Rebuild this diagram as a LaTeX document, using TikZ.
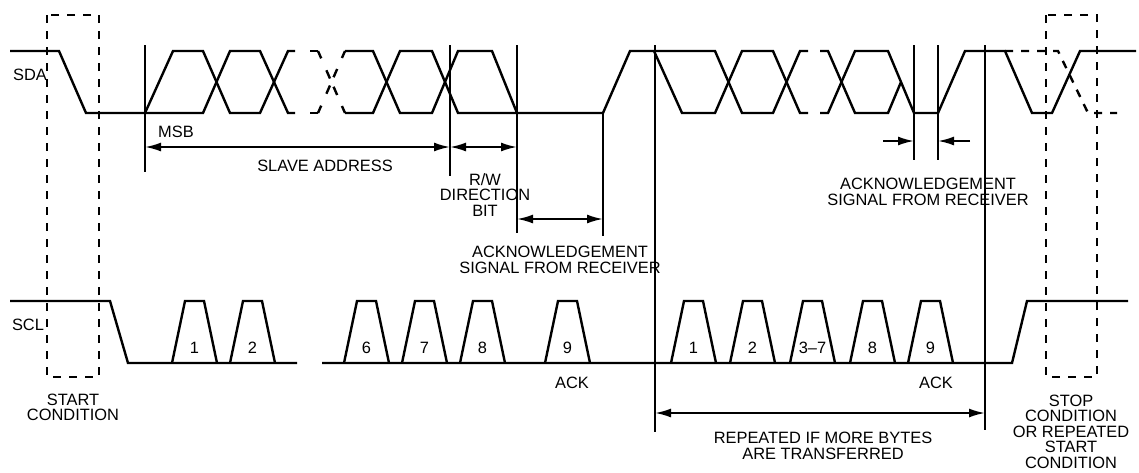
\documentclass[tikz,border=0pt]{standalone}
\usepackage{fontspec}
\setmainfont{Liberation Sans}
\usetikzlibrary{arrows.meta}

\tikzset{
  wave/.style={line width=1.2pt, line join=miter},
  marker/.style={line width=1pt},
  condbox/.style={line width=0.9pt, dash pattern=on 4pt off 4pt},
  dimline/.style={line width=1pt, {Latex[length=8pt,width=4.5pt]}-{Latex[length=8pt,width=4.5pt]}},
  pointer/.style={line width=1pt, -{Latex[length=8pt,width=4.5pt]}},
  lbl/.style={font=\fontsize{8.2}{7.75}\selectfont, inner sep=0pt, align=center},
  gapx/.style={wave, dash pattern=on 4pt off 6.5pt on 4.5pt off 4.5pt on 4.5pt off 6pt on 4pt},
}

\begin{document}
\begin{tikzpicture}[x=0.5pt, y=-0.5pt]
        \useasboundingbox (0,0) rectangle (1139,472);

        % SDA line
        \draw[wave] (10,51) -- (59,51) -- (86,113) -- (145,113) -- (173,51) -- (203,51) -- (230,113) -- (260,113) -- (288,51) -- (295,51);
        \draw[wave] (145,113) -- (203,113) -- (230,51) -- (260,51) -- (288,113) -- (295,113);
        \draw[wave] (310,51) -- (318,51);
        \draw[wave] (310,113) -- (318,113);
        \draw[gapx] (318,51) -- (345,113);
        \draw[gapx] (318,113) -- (345,51);
        \draw[wave] (345,51) -- (373,51) -- (400,113) -- (432,113) -- (458,51) -- (492,51) -- (517,113) -- (603,113) -- (630,51) -- (715,51) -- (742,113) -- (773,113) -- (800,51) -- (808,51);
        \draw[wave] (345,113) -- (373,113) -- (400,51) -- (432,51) -- (458,113) -- (517,113);
        \draw[wave] (654,51) -- (682,113) -- (715,113) -- (742,51) -- (773,51) -- (800,113) -- (808,113);
        \draw[wave] (820,51) -- (828,51) -- (855,113) -- (888,113) -- (901,82);
        \draw[wave] (820,113) -- (828,113) -- (855,51) -- (888,51) -- (914,113) -- (938,113) -- (965,51) -- (1005,51) -- (1032,113) -- (1052,113) -- (1080,51) -- (1136,51);
        \draw[wave, dash pattern=on 4pt off 4pt] (1005,51) -- (1058,51) -- (1088,113) -- (1117,113);

        % SCL line
        \draw[wave] (10,301) -- (110,301) -- (128,363) -- (297,363);
        \draw[wave] (322,363) -- (1012,363) -- (1027,301) -- (1128,301);
        \foreach \x/\n [count=\i] in {172/1, 230/2, 344/6, 402/7, 460/8, 545/9, 671/1, 730/2, 790/3--7, 850/8, 908/9} {
                \draw[wave] (\x,363) -- ++(13,-62) -- ++(19,0) -- ++(13,62);
                \node[lbl] (clk\i) at (\x+22.5,348) {\n};
        }

        % start / stop boxes
        \draw[condbox] (47,15) rectangle (99,377);
        \draw[condbox] (1046,15) rectangle (1097,377);

        % markers
        \coordinate (msbT) at (145,45);   \coordinate (msbB) at (145,172);
        \coordinate (rwT) at (450,45);    \coordinate (rwB) at (450,176);
        \coordinate (ackT) at (517,45);   \coordinate (ackB) at (517,233);
        \coordinate (relT) at (603,113);  \coordinate (relB) at (603,236);
        \coordinate (repT) at (655,45);   \coordinate (repB) at (655,432);
        \coordinate (ack2T) at (914,45);  \coordinate (ack2B) at (914,160);
        \coordinate (rel2T) at (938,45);  \coordinate (rel2B) at (938,160);
        \coordinate (endT) at (985,45);   \coordinate (endB) at (985,430);
        \begin{scope}[every path/.style={marker}]
                \draw (msbT) -- (msbB);
                \draw (rwT) -- (rwB);
                \draw (ackT) -- (ackB);
                \draw (relT) -- (relB);
                \draw (repT) -- (repB);
                \draw (ack2T) -- (ack2B);
                \draw (rel2T) -- (rel2B);
                \draw (endT) -- (endB);
        \end{scope}

        % dimension arrows
        \coordinate (sa1) at (145,147);  \coordinate (sa2) at (450,147);
        \coordinate (rw2) at (517,147);
        \coordinate (ak1) at (517,219);  \coordinate (ak2) at (603,219);
        \coordinate (rp1) at (655,413);  \coordinate (rp2) at (985,413);
        \coordinate (in1) at (883,141);  \coordinate (in2) at (914,141);
        \coordinate (in3) at (970,141);  \coordinate (in4) at (938,141);
        \draw[dimline] (sa1) -- (sa2);
        \draw[dimline] (sa2) -- (rw2);
        \draw[dimline] (ak1) -- (ak2);
        \draw[dimline] (rp1) -- (rp2);
        \draw[pointer] (in1) -- (in2);
        \draw[pointer] (in3) -- (in4);

        % texts
        \begin{scope}[every node/.style={lbl}]
                \node (sda) at (30,75) {SDA};
                \node (scl) at (28,325) {SCL};
                \node (msb) at (176,132) {MSB};
                \node (slave) at (325,166) {SLAVE ADDRESS};
                \node (rw) at (485,195) {R/W\\DIRECTION\\BIT};
                \node (ackl) at (560,260) {ACKNOWLEDGEMENT\\SIGNAL FROM RECEIVER};
                \node (ackr) at (928,192) {ACKNOWLEDGEMENT\\SIGNAL FROM RECEIVER};
                \node (ack1) at (572,383) {ACK};
                \node (ack2) at (936,383) {ACK};
                \node (rep) at (823,446) {REPEATED IF MORE BYTES\\ARE TRANSFERRED};
                \node (start) at (73,407.5) {START\\CONDITION};
                \node (stop) at (1071,431.5) {STOP\\CONDITION\\OR REPEATED\\START\\CONDITION};
        \end{scope}
\end{tikzpicture}
\end{document}
